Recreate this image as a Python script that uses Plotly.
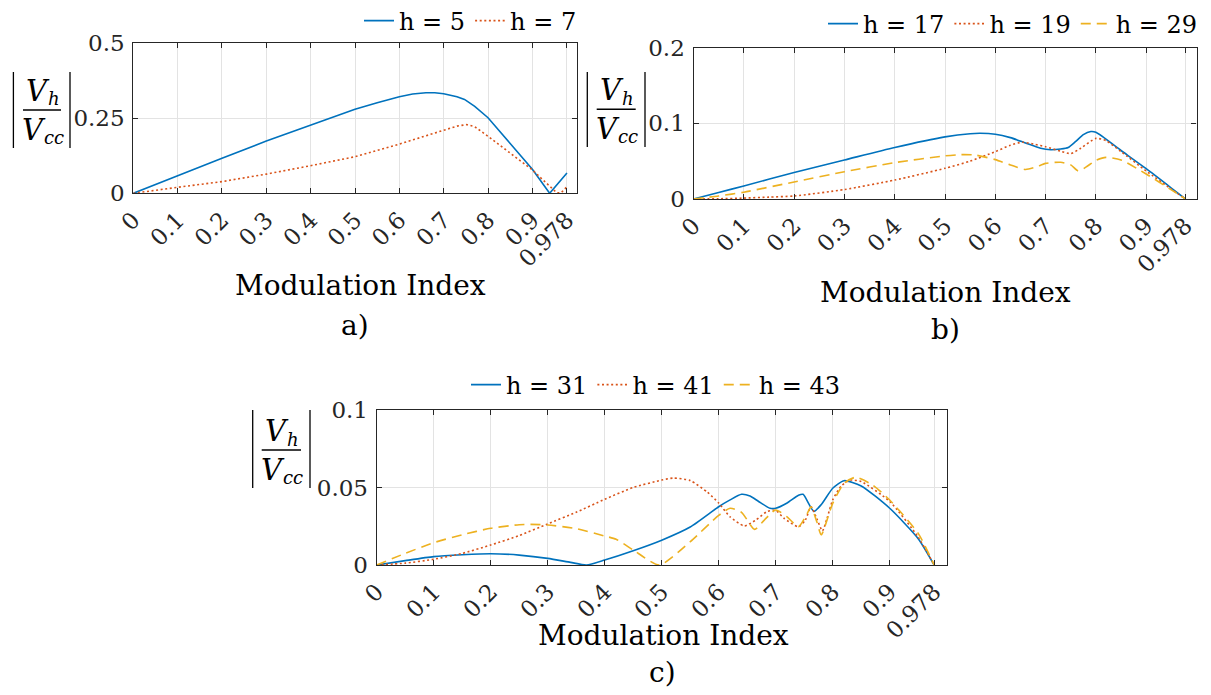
import plotly.graph_objects as go

W, H = 1211, 695

# ---------------- data ----------------
x_ticks = [0, 0.1, 0.2, 0.3, 0.4, 0.5, 0.6, 0.7, 0.8, 0.9, 0.978]
x_ticktext = ["0", "0.1", "0.2", "0.3", "0.4", "0.5", "0.6", "0.7", "0.8", "0.9", "0.978"]

# panel a
a_h5_x = [0, 0.1, 0.2, 0.3, 0.4, 0.5, 0.55, 0.6, 0.63, 0.66, 0.68, 0.7, 0.73, 0.747, 0.77, 0.8, 0.85, 0.9, 0.939, 0.978]
a_h5_y = [0, 0.059, 0.117, 0.174, 0.228, 0.280, 0.302, 0.322, 0.331, 0.335, 0.335, 0.332, 0.322, 0.313, 0.290, 0.252, 0.166, 0.080, 0.0, 0.068]
a_h7_x = [0, 0.05, 0.1, 0.2, 0.3, 0.4, 0.5, 0.6, 0.65, 0.7, 0.73, 0.752, 0.77, 0.8, 0.85, 0.9, 0.92, 0.94, 0.955, 0.965, 0.978]
a_h7_y = [0, 0.009, 0.020, 0.039, 0.064, 0.092, 0.122, 0.164, 0.188, 0.211, 0.224, 0.229, 0.222, 0.190, 0.135, 0.078, 0.050, 0.022, 0.002, 0.002, 0.022]

# panel b
b_h17_x = [0, 0.05, 0.1, 0.2, 0.3, 0.4, 0.5, 0.55, 0.57, 0.6, 0.63, 0.66, 0.69, 0.71, 0.73, 0.745, 0.76, 0.775, 0.79, 0.8, 0.85, 0.9, 0.95, 0.978]
b_h17_y = [0, 0.0086, 0.0172, 0.035, 0.0515, 0.068, 0.082, 0.0862, 0.0868, 0.0855, 0.081, 0.074, 0.067, 0.065, 0.066, 0.068, 0.076, 0.085, 0.089, 0.088, 0.064, 0.040, 0.0145, 0]
b_h19_x = [0, 0.05, 0.1, 0.15, 0.2, 0.3, 0.4, 0.5, 0.55, 0.6, 0.63, 0.654, 0.68, 0.7, 0.73, 0.75, 0.77, 0.8, 0.82, 0.85, 0.9, 0.95, 0.978]
b_h19_y = [0, 0.0003, 0.0012, 0.0025, 0.004, 0.0125, 0.025, 0.0405, 0.050, 0.0625, 0.071, 0.075, 0.072, 0.069, 0.063, 0.060, 0.067, 0.080, 0.077, 0.0626, 0.037, 0.013, 0]
b_h29_x = [0, 0.05, 0.1, 0.2, 0.3, 0.4, 0.5, 0.53, 0.56, 0.6, 0.63, 0.66, 0.68, 0.7, 0.73, 0.75, 0.765, 0.78, 0.8, 0.82, 0.85, 0.9, 0.95, 0.978]
b_h29_y = [0, 0.004, 0.009, 0.0225, 0.036, 0.048, 0.057, 0.0585, 0.058, 0.052, 0.045, 0.039, 0.042, 0.047, 0.0485, 0.045, 0.037, 0.042, 0.051, 0.055, 0.0515, 0.033, 0.012, 0]

# panel c
c_h31_x = [0, 0.05, 0.1, 0.15, 0.2, 0.25, 0.3, 0.34, 0.368, 0.4, 0.45, 0.5, 0.55, 0.6, 0.62, 0.64, 0.655, 0.67, 0.69, 0.7, 0.72, 0.74, 0.748, 0.767, 0.78, 0.8, 0.82, 0.85, 0.9, 0.95, 0.978]
c_h31_y = [0, 0.0028, 0.0054, 0.0066, 0.0073, 0.0064, 0.0043, 0.0017, 0, 0.0032, 0.0092, 0.016, 0.0245, 0.0376, 0.042, 0.0456, 0.0445, 0.041, 0.0366, 0.0366, 0.040, 0.045, 0.0456, 0.0346, 0.039, 0.0495, 0.0544, 0.051, 0.0366, 0.017, 0]
c_h41_x = [0, 0.05, 0.1, 0.15, 0.2, 0.25, 0.3, 0.35, 0.4, 0.45, 0.5, 0.52, 0.55, 0.58, 0.6, 0.62, 0.645, 0.665, 0.685, 0.7, 0.715, 0.74, 0.752, 0.762, 0.772, 0.782, 0.79, 0.8, 0.815, 0.83, 0.85, 0.9, 0.95, 0.978]
c_h41_y = [0, 0.0012, 0.0037, 0.0075, 0.0129, 0.019, 0.0265, 0.034, 0.0424, 0.050, 0.0548, 0.0561, 0.0545, 0.047, 0.040, 0.031, 0.0252, 0.029, 0.0345, 0.0352, 0.030, 0.0247, 0.029, 0.0376, 0.030, 0.022, 0.030, 0.042, 0.051, 0.0548, 0.0538, 0.041, 0.018, 0]
c_h43_x = [0, 0.05, 0.1, 0.15, 0.2, 0.25, 0.27, 0.3, 0.35, 0.4, 0.42, 0.45, 0.496, 0.55, 0.6, 0.62, 0.64, 0.663, 0.68, 0.7, 0.72, 0.74, 0.755, 0.762, 0.772, 0.78, 0.8, 0.82, 0.84, 0.87, 0.9, 0.95, 0.978]
c_h43_y = [0, 0.0075, 0.0144, 0.0195, 0.0237, 0.026, 0.0262, 0.0258, 0.0235, 0.0187, 0.0166, 0.0097, 0, 0.015, 0.032, 0.0366, 0.034, 0.023, 0.029, 0.0355, 0.031, 0.0247, 0.033, 0.0376, 0.028, 0.0195, 0.0398, 0.0527, 0.0566, 0.0516, 0.0419, 0.0204, 0]

# ---------------- style ----------------
FONT = "DejaVu Serif"
BLUE, RED, YEL = "#0072BD", "#D95319", "#EDB120"
AX = "#262626"
GRID = "#e3e3e3"
LW = 1.6
DOT = "2px,2.6px"
DASH = "10px,6px"

# panel boxes in pixels (left, right, top, bottom)
boxes = {
    "a": (133.3, 576.7, 43.3, 193.3),
    "b": (693.5, 1196.5, 47.5, 199.0),
    "c": (376.7, 946.7, 410.0, 565.0),
}

def px(x):
    return x / W

def py(y):
    return 1 - y / H

fig = go.Figure()

def add(x, y, name, color, dash, axis, legend, shape="spline"):
    fig.add_trace(go.Scatter(
        x=x, y=y, mode="lines", name=name,
        line=dict(color=color, width=LW, dash=dash, shape=shape,
                  smoothing=0.6 if shape == "spline" else None),
        xaxis="x" + axis, yaxis="y" + axis, legend=legend,
    ))

add(a_h5_x, a_h5_y, "h = 5", BLUE, "solid", "", "legend", "linear")
add(a_h7_x, a_h7_y, "h = 7", RED, DOT, "", "legend", "linear")
add(b_h17_x, b_h17_y, "h = 17", BLUE, "solid", "2", "legend2")
add(b_h19_x, b_h19_y, "h = 19", RED, DOT, "2", "legend2")
add(b_h29_x, b_h29_y, "h = 29", YEL, DASH, "2", "legend2")
add(c_h31_x, c_h31_y, "h = 31", BLUE, "solid", "3", "legend3")
add(c_h41_x, c_h41_y, "h = 41", RED, DOT, "3", "legend3")
add(c_h43_x, c_h43_y, "h = 43", YEL, DASH, "3", "legend3")

tickfont = dict(family=FONT, size=23, color=AX)

def xax(box, anchor):
    l, r, t, b = box
    return dict(domain=[px(l), px(r)], anchor=anchor, range=[0, 1],
                tickmode="array", tickvals=x_ticks, ticktext=x_ticktext,
                tickangle=-45, tickfont=tickfont, ticks="inside", ticklen=5,
                tickcolor=AX, showline=True, linecolor=AX, linewidth=1.2,
                mirror="ticks", showgrid=True, gridcolor=GRID, gridwidth=1,
                zeroline=False, fixedrange=True, automargin=False,
                ticklabelstandoff=3)

def yax(box, anchor, rng, tv, tt):
    l, r, t, b = box
    return dict(domain=[py(b), py(t)], anchor=anchor, range=rng,
                tickmode="array", tickvals=tv, ticktext=tt,
                tickfont=tickfont, ticks="inside", ticklen=5,
                tickcolor=AX, showline=True, linecolor=AX, linewidth=1.2,
                mirror="ticks", showgrid=True, gridcolor=GRID, gridwidth=1,
                zeroline=False, fixedrange=True, ticklabelstandoff=3, automargin=False)

legfont = dict(family=FONT, size=24, color="black")

def leg(x, y, xanchor):
    return dict(orientation="h", x=px(x), y=py(y), xanchor=xanchor, yanchor="middle",
                font=legfont, bgcolor="rgba(0,0,0,0)", borderwidth=0,
                itemwidth=30, tracegroupgap=0, itemclick=False)

fig.update_layout(
    width=W, height=H, margin=dict(l=0, r=0, t=0, b=0, autoexpand=False),
    paper_bgcolor="white", plot_bgcolor="white",
    font=dict(family=FONT),
    xaxis=xax(boxes["a"], "y"),
    yaxis=yax(boxes["a"], "x", [0, 0.5], [0, 0.25, 0.5], ["0", "0.25", "0.5"]),
    xaxis2=xax(boxes["b"], "y2"),
    yaxis2=yax(boxes["b"], "x2", [0, 0.2], [0, 0.1, 0.2], ["0", "0.1", "0.2"]),
    xaxis3=xax(boxes["c"], "y3"),
    yaxis3=yax(boxes["c"], "x3", [0, 0.1], [0, 0.05, 0.1], ["0", "0.05", "0.1"]),
    legend=leg(582, 21, "right"),
    legend2=leg(1203, 24, "right"),
    legend3=leg(656, 385, "center"),
    showlegend=True,
)

annotations = []
shapes = []

def text(x, y, s, size, xanchor="center"):
    annotations.append(dict(x=px(x), y=py(y), xref="paper", yref="paper", text=s,
                            showarrow=False, xanchor=xanchor, yanchor="middle",
                            borderpad=0,
                            font=dict(family=FONT, size=size, color="black")))

def ylabel(lbar, rbar, top, bottom, fl, fr, fy):
    for xb in (lbar, rbar):
        shapes.append(dict(type="line", xref="paper", yref="paper",
                           x0=px(xb), x1=px(xb), y0=py(top), y1=py(bottom),
                           line=dict(color="black", width=1.3)))
    shapes.append(dict(type="line", xref="paper", yref="paper",
                       x0=px(fl), x1=px(fr), y0=py(fy), y1=py(fy),
                       line=dict(color="black", width=1.6)))
    # numerator V_h
    text(fl + 2, fy - 19, "<i>V</i>", 29, "left")
    text(fl + 24, fy - 11, "<i>h</i>", 18, "left")
    # denominator V_cc
    text(fl - 2, fy + 20, "<i>V</i>", 29, "left")
    text(fl + 20, fy + 27, "<i>cc</i>", 18, "left")

ylabel(13.4, 70.0, 72, 148, 23, 61, 110)
ylabel(587.3, 645.0, 72, 147, 596.7, 635.7, 109.3)
ylabel(252.7, 310.0, 410, 488, 261.7, 301.0, 450)

text(360, 285, "Modulation Index", 28)
text(945, 292, "Modulation Index", 28)
text(663, 635, "Modulation Index", 28)
text(355, 325, "a)", 28)
text(945, 330, "b)", 28)
text(662, 672, "c)", 28)

fig.update_layout(annotations=annotations, shapes=shapes)

fig.write_html("out.html")
